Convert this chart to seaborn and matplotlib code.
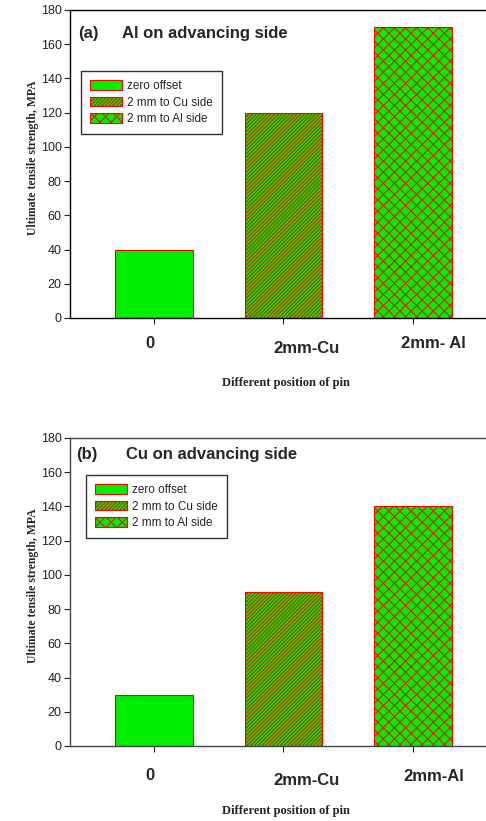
import matplotlib
matplotlib.use("Agg")
import matplotlib.pyplot as plt
import matplotlib.transforms as mtransforms
from matplotlib.patches import Patch
import seaborn as sns
import pandas as pd

# data
positions = ["0", "2mm-Cu", "2mm-Al"]
tick_labels_a = ["0", "2mm-Cu", "2mm- Al"]
tick_labels_b = ["0", "2mm-Cu", "2mm-Al"]
uts_al_adv = [40, 120, 170]
uts_cu_adv = [30, 90, 140]
legend_labels = ["zero offset", "2 mm to Cu side", "2 mm to Al side"]
hatches = ["", "/" * 9, "xxx"]

sns.set_style("ticks")
plt.rcParams["font.family"] = ["Liberation Sans", "DejaVu Sans"]
plt.rcParams["hatch.linewidth"] = 0.7

GREEN = "#00ee00"
RED = "#ff0000"

fig = plt.figure(figsize=(4.86, 8.21), dpi=100)
W, H = 486, 821


def add_axes(top_px, bottom_px):
    return fig.add_axes([70 / W, 1 - bottom_px / H, 1 - 70 / W, (bottom_px - top_px) / H])


def draw_panel(ax, values, ticklabels, tag, title, leg_xy, spine_col, dys):
    df = pd.DataFrame({"pos": positions, "uts": values})
    sns.barplot(data=df, x="pos", y="uts", hue="pos", palette=[GREEN] * 3,
                width=0.6, legend=False, ax=ax, saturation=1)
    for p, h in zip(ax.patches, hatches):
        p.set_hatch(h)
        p.set_edgecolor(RED)
        p.set_linewidth(0.8)

    ax.set_xlim(-0.651, 2.566)
    ax.set_ylim(0, 180)
    ax.set_yticks(range(0, 181, 20))
    ax.tick_params(axis="y", labelsize=9, length=4, width=0.8, pad=2, colors="#222222")
    ax.tick_params(axis="x", length=4, width=0.8, pad=9)
    ax.set_xticks(range(3))
    ax.set_xticklabels(ticklabels, fontsize=12, fontweight="bold")
    dxs = [-4, 23, 21]
    for lab, dx, dy in zip(ax.get_xticklabels(), dxs, dys):
        off = mtransforms.ScaledTranslation(dx / 100, -dy / 100, fig.dpi_scale_trans)
        lab.set_transform(lab.get_transform() + off)

    for s in ["left", "bottom", "top"]:
        ax.spines[s].set_color(spine_col)
        ax.spines[s].set_linewidth(1.0)
    ax.spines["right"].set_visible(False)

    ax.set_xlabel("Different position of pin", family="Liberation Serif",
                  fontweight="bold", fontsize=9)
    ax.xaxis.set_label_coords(0.519, -0.19)
    ax.set_ylabel("Ultimate tensile strength, MPA", family="Liberation Serif",
                  fontweight="bold", fontsize=8.5)
    ax.yaxis.set_label_coords(-0.074, 0.52)

    ax.text(tag[1], tag[2], tag[0], transform=ax.transAxes, fontsize=12,
            fontweight="bold", va="center", ha="left")
    ax.text(title[1], tag[2], title[0], transform=ax.transAxes, fontsize=12,
            fontweight="bold", va="center", ha="left")

    handles = [Patch(facecolor=GREEN, edgecolor=RED, hatch=h, linewidth=0.8)
               for h in hatches]
    leg = ax.legend(handles, legend_labels, loc="upper left", bbox_to_anchor=leg_xy,
                    fontsize=8.5, frameon=True, fancybox=False, edgecolor="black",
                    handlelength=2.7, handleheight=0.9, handletextpad=0.5,
                    labelspacing=0.4, borderpad=0.75, borderaxespad=0)
    leg.get_frame().set_linewidth(1.0)


ax_a = add_axes(10, 318)
draw_panel(ax_a, uts_al_adv, tick_labels_a, ("(a)", 0.019, 0.925),
           ("Al on advancing side", 0.125), (0.026, 0.802), "black", [0, 5, 0])

ax_b = add_axes(438, 746)
draw_panel(ax_b, uts_cu_adv, tick_labels_b, ("(b)", 0.014, 0.945),
           ("Cu on advancing side", 0.135), (0.038, 0.88), "#444444", [4, 9, 5])

fig.savefig("out.png", dpi=100)
